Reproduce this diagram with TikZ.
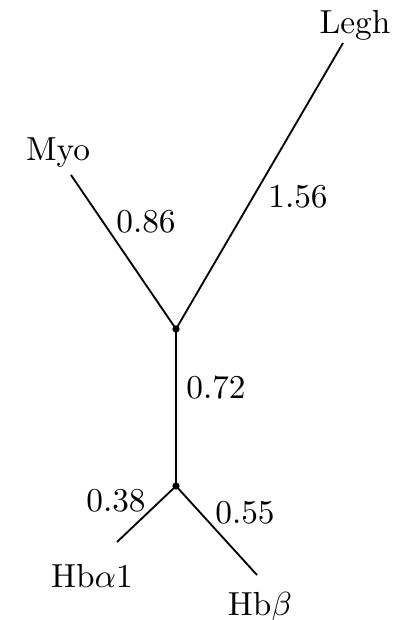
\documentclass[tikz,border=0pt]{standalone}
\begin{document}
\begin{tikzpicture}[x=0.3pt,y=-0.3pt,
  branch/.style={line width=0.55pt},
  dot/.style={circle,fill=black,inner sep=0pt,minimum size=2.2pt},
  lbl/.style={anchor=base,inner sep=0pt,font=\fontsize{10}{12}\selectfont}]
\useasboundingbox (0,0) rectangle (400,620);
\node[dot] (u) at (176,329) {};
\node[dot] (l) at (176,486) {};
\coordinate (myo) at (71,175);
\coordinate (legh) at (343,43);
\coordinate (ha) at (117,542);
\coordinate (hb) at (257,575);
\draw[branch] (myo) -- (u.center) -- (legh);
\draw[branch] (u.center) -- (l.center);
\draw[branch] (ha) -- (l.center) -- (hb);
\node[lbl] (tmyo) at (58,160) {Myo};
\node[lbl] (tlegh) at (355,33) {Legh};
\node[lbl] (tha) at (92,587) {Hb$\alpha$1};
\node[lbl] (thb) at (260,615) {Hb$\beta$};
\node[lbl] (w1) at (146,232) {0.86};
\node[lbl] (w2) at (298,207) {1.56};
\node[lbl] (w3) at (216,398) {0.72};
\node[lbl] (w4) at (116,511) {0.38};
\node[lbl] (w5) at (245,523) {0.55};
\end{tikzpicture}
\end{document}
